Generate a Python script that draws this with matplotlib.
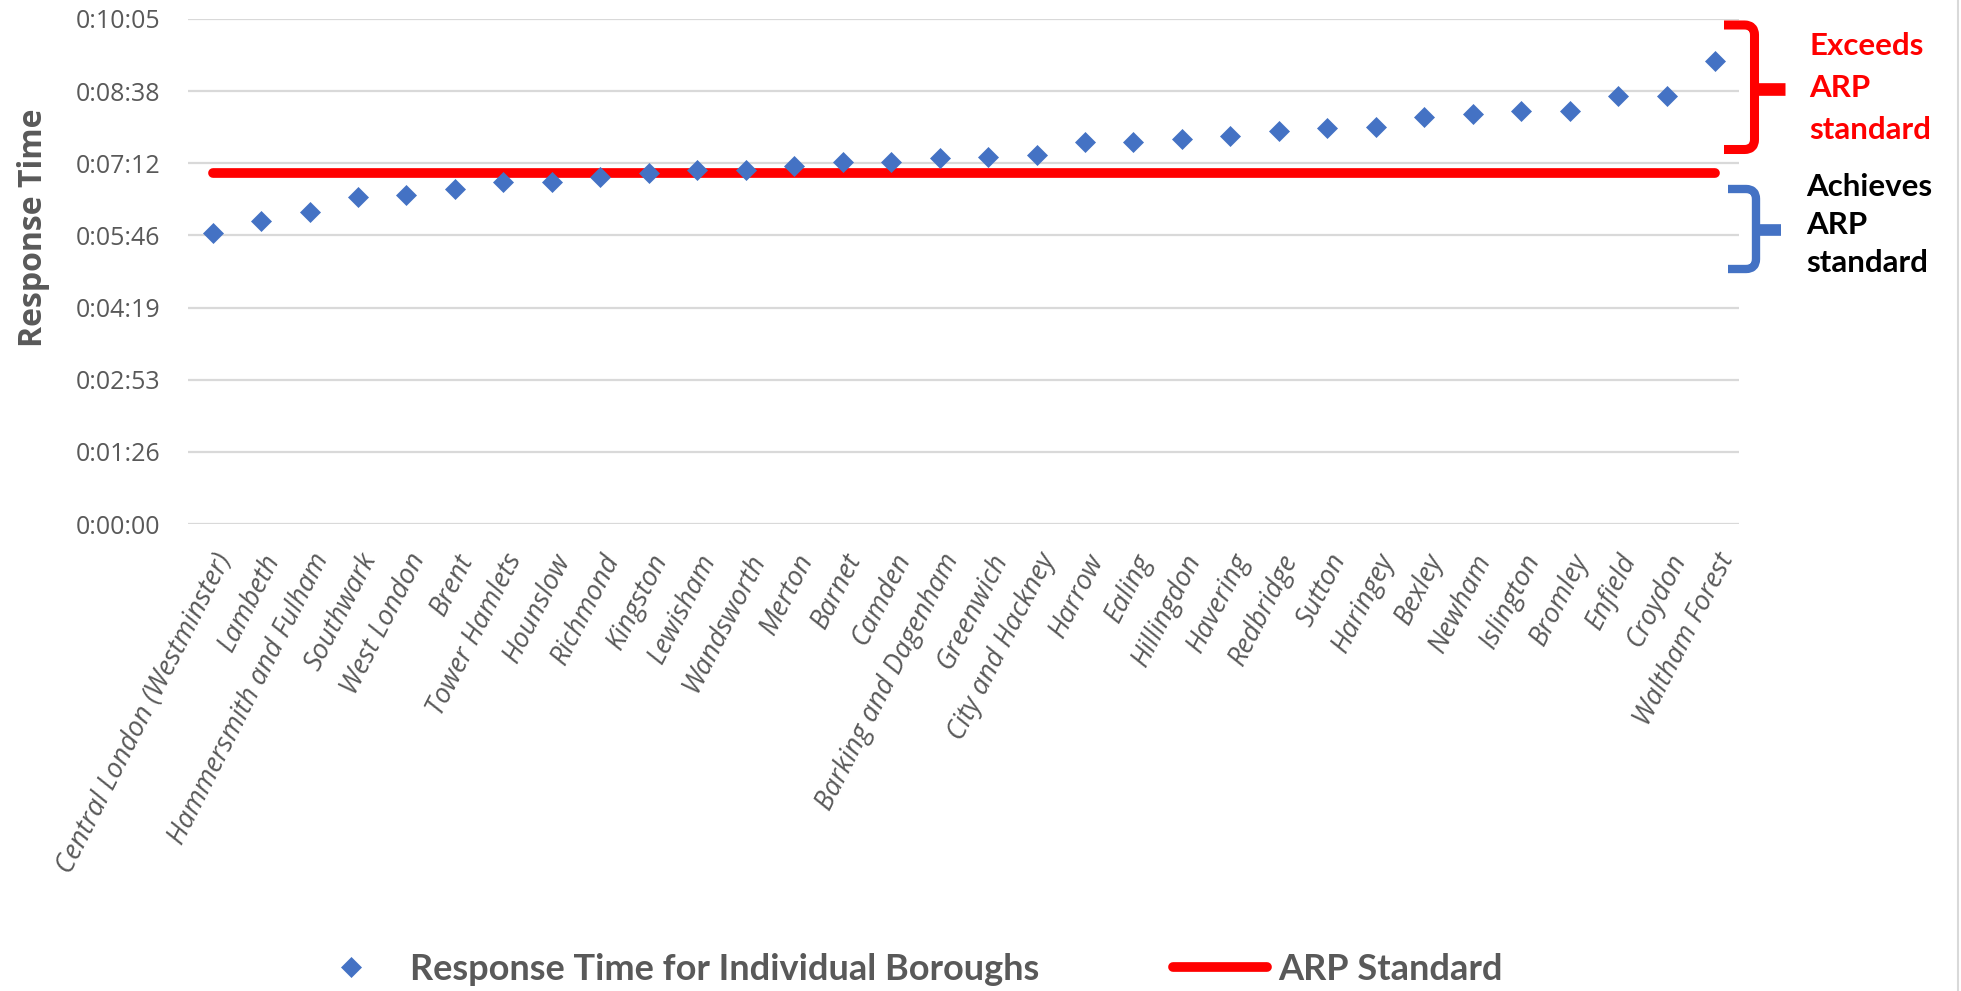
import matplotlib
matplotlib.use('Agg')
from matplotlib import pyplot as plt
from matplotlib.path import Path
from matplotlib.patches import PathPatch
from matplotlib.lines import Line2D
from matplotlib.ticker import FuncFormatter
import numpy as np

boroughs = ['Central London (Westminster)', 'Lambeth', 'Hammersmith and Fulham',
            'Southwark', 'West London', 'Brent', 'Tower Hamlets', 'Hounslow',
            'Richmond', 'Kingston', 'Lewisham', 'Wandsworth', 'Merton', 'Barnet',
            'Camden', 'Barking and Dagenham', 'Greenwich', 'City and Hackney',
            'Harrow', 'Ealing', 'Hillingdon', 'Havering', 'Redbridge', 'Sutton',
            'Haringey', 'Bexley', 'Newham', 'Islington', 'Bromley', 'Enfield',
            'Croydon', 'Waltham Forest']
# response time in seconds
response_s = [349, 363, 373, 392, 394, 401, 410, 410, 416, 420, 424, 424,
              429, 433, 433, 438, 439, 442, 457, 457, 461, 464, 471, 474,
              475, 487, 491, 494, 494, 513, 513, 554]
arp_standard_s = 420
# excel time axis: steps of 0.001 day
ytick_s = [0, 86.4, 172.8, 259.2, 345.6, 432.0, 518.4, 604.8]

W, H = 1961, 991
GREY = '#595959'
BLUE = '#4472C4'


def fx(x):
    return x / W


def fy(y):
    return 1 - y / H


def hms(v, pos=None):
    s = int(round(v))
    return '%d:%02d:%02d' % (s // 3600, (s % 3600) // 60, s % 60)


def brace(fig, xl, xv, top, mid, bot, tip, color, lw):
    r = 10
    verts = [(xl, top), (xv - r, top), (xv, top), (xv, top + r),
             (xv, bot - r), (xv, bot), (xv - r, bot), (xl, bot)]
    codes = [Path.MOVETO, Path.LINETO, Path.CURVE3, Path.CURVE3,
             Path.LINETO, Path.CURVE3, Path.CURVE3, Path.LINETO]
    verts = [(fx(a), fy(b)) for a, b in verts]
    fig.add_artist(PathPatch(Path(verts, codes), fill=False, edgecolor=color,
                             lw=lw, transform=fig.transFigure,
                             capstyle='butt', joinstyle='round'))
    fig.add_artist(Line2D([fx(xv), fx(tip)], [fy(mid), fy(mid)], color=color,
                          lw=lw * 1.4, transform=fig.transFigure,
                          solid_capstyle='butt'))


fig = plt.figure(figsize=(W / 100, H / 100), dpi=100)
ax = fig.add_axes([fx(188.4), fy(524), fx(1739.3) - fx(188.4), fy(18.9) - fy(524)])

x = np.arange(len(boroughs))
ax.plot(x, response_s, linestyle='none', marker='D', markersize=10.2,
        color=BLUE, markeredgewidth=0.5, zorder=3,
        label='Response Time for Individual Boroughs')
ax.plot(x, [arp_standard_s] * len(boroughs), color='red', lw=7,
        solid_capstyle='round', zorder=2, label='ARP Standard')

ax.set_xlim(-0.5, len(boroughs) - 0.5)
ax.set_ylim(0, ytick_s[-1])
ax.set_yticks(ytick_s)
ax.yaxis.set_major_formatter(FuncFormatter(hms))
ax.grid(axis='y', color='#D9D9D9', lw=1.6)
ax.set_axisbelow(True)
for s in ax.spines.values():
    s.set_visible(False)
ax.tick_params(axis='both', length=0)
ax.tick_params(axis='y', pad=20, labelsize=18, labelcolor=GREY)
for lab in ax.get_yticklabels():
    lab.set_family('Open Sans')

ax.set_xticks(x)
ax.set_xticklabels(boroughs, rotation=63, ha='right', va='top',
                   rotation_mode='anchor', fontsize=19.5, color=GREY,
                   family='Open Sans', style='italic')
ax.tick_params(axis='x', pad=18)

ax.set_ylabel('Response Time', fontsize=23, fontweight='bold', color=GREY,
              family='Open Sans')
ax.yaxis.set_label_coords(-0.089, 0.587)

leg = fig.legend(loc='center', bbox_to_anchor=(0.4607, 0.022), ncol=2,
                 frameon=False, numpoints=1, handlelength=2.6,
                 handletextpad=0.33, columnspacing=3.7,
                 prop={'family': 'Lato', 'weight': 'bold', 'size': 26})
for t in leg.get_texts():
    t.set_color(GREY)

# annotation braces
brace(fig, 1724, 1754.5, 25, 88.5, 149.5, 1785, 'red', 6.5)
brace(fig, 1728, 1756, 189, 229.5, 269, 1780.6, BLUE, 6.0)
fig.text(fx(1809), fy(88), 'Exceeds\nARP\nstandard', color='red',
         fontsize=22.5, fontweight='bold', family='Lato', va='center',
         ha='left', linespacing=1.6)
fig.text(fx(1806), fy(225), 'Achieves\nARP\nstandard', color='black',
         fontsize=22.5, fontweight='bold', family='Lato', va='center',
         ha='left', linespacing=1.45)

# right border of the chart area
fig.add_artist(Line2D([fx(1957.5), fx(1957.5)], [0, 1], color='#D9D9D9',
                      lw=1.5, transform=fig.transFigure))

fig.savefig('out.png', dpi=100)
